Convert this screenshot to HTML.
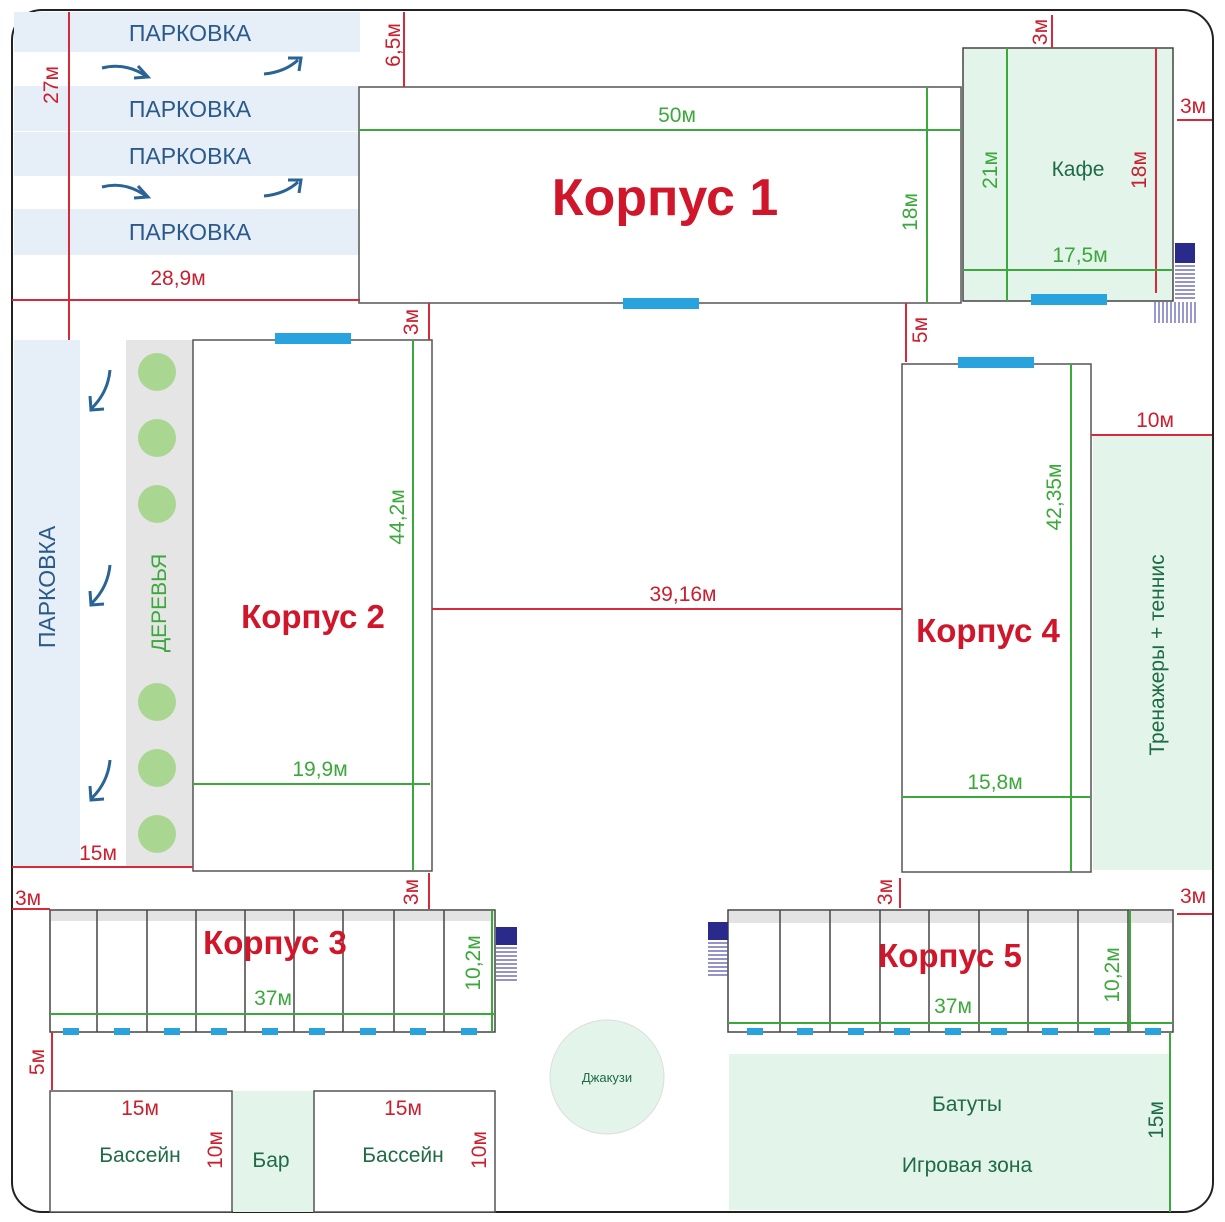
<!DOCTYPE html>
<html><head><meta charset="utf-8"><style>html,body{margin:0;padding:0;background:#fff}svg{display:block}text{font-family:"Liberation Sans",sans-serif}</style></head><body>
<svg width="1225" height="1222" viewBox="0 0 1225 1222" xmlns="http://www.w3.org/2000/svg">
<rect x="12" y="10" width="1201" height="1202" rx="30" fill="#fff" stroke="#222" stroke-width="2"/>
<g fill="#e6eef8">
<rect x="14" y="12" width="346" height="40"/><rect x="14" y="86" width="346" height="45"/><rect x="14" y="132" width="346" height="44"/><rect x="14" y="209" width="346" height="46"/>
</g>
<g font-size="23" fill="#2a5a8a" text-anchor="middle">
<text x="190" y="41">ПАРКОВКА</text><text x="190" y="117">ПАРКОВКА</text><text x="190" y="164">ПАРКОВКА</text><text x="190" y="240">ПАРКОВКА</text>
</g>
<g fill="none" stroke="#2a6496" stroke-width="3">
<path d="M102 68 Q125 62 146 76"/><path d="M138 66 L148 77 L134 78"/>
<path d="M264 74 Q285 72 298 60"/><path d="M288 58 L301 58 L299 71"/>
<path d="M102 187 Q125 181 146 196"/><path d="M138 186 L148 197 L134 198"/>
<path d="M264 196 Q285 194 298 182"/><path d="M288 180 L301 180 L299 193"/>
<path d="M110 370 Q108 392 92 408"/><path d="M90 396 L91 410 L104 409"/>
<path d="M110 565 Q108 587 92 603"/><path d="M90 591 L91 605 L104 604"/>
<path d="M110 760 Q108 782 92 798"/><path d="M90 786 L91 800 L104 799"/>
</g>
<rect x="359" y="87" width="602" height="216" fill="#fff" stroke="#555" stroke-width="1.5"/>
<rect x="963" y="48" width="210" height="253" fill="#e3f4ea" stroke="#444" stroke-width="1.5"/>
<rect x="14" y="340" width="66" height="527" fill="#e6eef8"/>
<rect x="126" y="340" width="67" height="527" fill="#e5e5e5"/>
<g fill="#a9d791"><circle cx="157" cy="372" r="19"/><circle cx="157" cy="438" r="19"/><circle cx="157" cy="504" r="19"/><circle cx="157" cy="702" r="19"/><circle cx="157" cy="768" r="19"/><circle cx="157" cy="834" r="19"/></g>
<rect x="193" y="340" width="239" height="531" fill="#fff" stroke="#555" stroke-width="1.5"/>
<rect x="902" y="364" width="189" height="508" fill="#fff" stroke="#555" stroke-width="1.5"/>
<rect x="1093" y="436" width="119" height="434" fill="#e3f4ea"/>
<rect x="50" y="910" width="445" height="122" fill="#fff" stroke="#444" stroke-width="1.5"/>
<rect x="51" y="911" width="443" height="10" fill="#e3e3e3"/>
<rect x="728" y="910" width="445" height="122" fill="#fff" stroke="#444" stroke-width="1.5"/>
<rect x="729" y="911" width="443" height="12" fill="#e3e3e3"/>
<g stroke="#444" stroke-width="1.5">
<line x1="97" y1="910" x2="97" y2="1032"/><line x1="147" y1="910" x2="147" y2="1032"/><line x1="196" y1="910" x2="196" y2="1032"/><line x1="245" y1="910" x2="245" y2="1032"/><line x1="294" y1="910" x2="294" y2="1032"/><line x1="343" y1="910" x2="343" y2="1032"/><line x1="394" y1="910" x2="394" y2="1032"/><line x1="444" y1="910" x2="444" y2="1032"/>
<line x1="780" y1="910" x2="780" y2="1032"/><line x1="830" y1="910" x2="830" y2="1032"/><line x1="880" y1="910" x2="880" y2="1032"/><line x1="929" y1="910" x2="929" y2="1032"/><line x1="979" y1="910" x2="979" y2="1032"/><line x1="1028" y1="910" x2="1028" y2="1032"/><line x1="1078" y1="910" x2="1078" y2="1032"/><line x1="1128" y1="910" x2="1128" y2="1032"/>
</g>
<rect x="50" y="1091" width="182" height="121" fill="#fff" stroke="#555" stroke-width="1.5"/>
<rect x="233" y="1091" width="81" height="121" fill="#e3f4ea"/>
<rect x="314" y="1091" width="181" height="121" fill="#fff" stroke="#555" stroke-width="1.5"/>
<circle cx="607" cy="1077" r="57" fill="#e3f4ea" stroke="#ddd"/>
<rect x="729" y="1054" width="441" height="156" fill="#e3f4ea"/>
<g stroke="#d62a3a" stroke-width="2" fill="none">
<line x1="69" y1="12" x2="69" y2="340"/><line x1="12" y1="300" x2="360" y2="300"/><line x1="404" y1="12" x2="404" y2="87"/>
<line x1="1052" y1="15" x2="1052" y2="48"/><line x1="1177" y1="120" x2="1212" y2="120"/>
<line x1="429" y1="303" x2="429" y2="340"/><line x1="906" y1="303" x2="906" y2="362"/>
<line x1="1091" y1="435" x2="1212" y2="435"/><line x1="12" y1="867" x2="193" y2="867"/>
<line x1="432" y1="609" x2="902" y2="609"/><line x1="429" y1="873" x2="429" y2="909"/>
<line x1="12" y1="909" x2="50" y2="909"/><line x1="52" y1="1032" x2="52" y2="1090"/>
<line x1="900" y1="878" x2="900" y2="908"/><line x1="1177" y1="914" x2="1212" y2="914"/>
<line x1="1156" y1="48" x2="1156" y2="293"/>
</g>
<g fill="#c8202e" font-size="21">
<text x="178" y="285" text-anchor="middle">28,9м</text>
<text transform="translate(58,85) rotate(-90)" text-anchor="middle">27м</text>
<text transform="translate(400,45) rotate(-90)" text-anchor="middle">6,5м</text>
<text transform="translate(1047,32) rotate(-90)" text-anchor="middle">3м</text>
<text x="1193" y="113" text-anchor="middle">3м</text>
<text transform="translate(1146,170) rotate(-90)" text-anchor="middle">18м</text>
<text transform="translate(418,322) rotate(-90)" text-anchor="middle">3м</text>
<text transform="translate(927,330) rotate(-90)" text-anchor="middle">5м</text>
<text x="1155" y="427" text-anchor="middle">10м</text>
<text x="98" y="860" text-anchor="middle">15м</text>
<text x="683" y="601" text-anchor="middle">39,16м</text>
<text transform="translate(418,892) rotate(-90)" text-anchor="middle">3м</text>
<text x="28" y="905" text-anchor="middle">3м</text>
<text transform="translate(892,892) rotate(-90)" text-anchor="middle">3м</text>
<text x="1193" y="903" text-anchor="middle">3м</text>
<text transform="translate(44,1062) rotate(-90)" text-anchor="middle">5м</text>
<text x="140" y="1115" text-anchor="middle">15м</text><text x="403" y="1115" text-anchor="middle">15м</text>
<text transform="translate(222,1150) rotate(-90)" text-anchor="middle">10м</text>
<text transform="translate(486,1150) rotate(-90)" text-anchor="middle">10м</text>
</g>
<g stroke="#3aa83a" stroke-width="2">
<line x1="359" y1="130" x2="961" y2="130"/><line x1="927" y1="87" x2="927" y2="303"/>
<line x1="1007" y1="48" x2="1007" y2="301"/><line x1="963" y1="270" x2="1173" y2="270"/>
<line x1="413" y1="340" x2="413" y2="871"/><line x1="193" y1="784" x2="430" y2="784"/>
<line x1="1071" y1="364" x2="1071" y2="872"/><line x1="902" y1="797" x2="1091" y2="797"/>
<line x1="50" y1="1014" x2="495" y2="1014"/><line x1="492" y1="910" x2="492" y2="1032"/>
<line x1="728" y1="1023" x2="1173" y2="1023"/><line x1="1130" y1="910" x2="1130" y2="1032"/>
<line x1="1170" y1="1032" x2="1170" y2="1212"/>
</g>
<g fill="#29a3dd">
<rect x="623" y="298" width="76" height="11"/><rect x="1031" y="294" width="76" height="11"/>
<rect x="275" y="333" width="76" height="11"/><rect x="958" y="357" width="76" height="11"/>
<rect x="63" y="1028" width="16" height="7"/><rect x="114" y="1028" width="16" height="7"/><rect x="164" y="1028" width="16" height="7"/><rect x="211" y="1028" width="16" height="7"/><rect x="262" y="1028" width="16" height="7"/><rect x="309" y="1028" width="16" height="7"/><rect x="360" y="1028" width="16" height="7"/><rect x="410" y="1028" width="16" height="7"/><rect x="461" y="1028" width="16" height="7"/>
<rect x="747" y="1028" width="16" height="7"/><rect x="797" y="1028" width="16" height="7"/><rect x="848" y="1028" width="16" height="7"/><rect x="894" y="1028" width="16" height="7"/><rect x="945" y="1028" width="16" height="7"/><rect x="991" y="1028" width="16" height="7"/><rect x="1042" y="1028" width="16" height="7"/><rect x="1094" y="1028" width="16" height="7"/><rect x="1145" y="1028" width="16" height="7"/>
</g>
<g fill="#2a2a8a">
<rect x="1175" y="243" width="20" height="20"/><rect x="496" y="927" width="21" height="18"/><rect x="708" y="922" width="20" height="18"/>
</g>
<g stroke="#5555aa" stroke-width="1.2">
<path d="M1175 266h20M1175 270h20M1175 274h20M1175 278h20M1175 282h20M1175 286h20M1175 290h20M1175 294h20M1175 298h20"/>
<path d="M1155 302v21M1159 302v21M1163 302v21M1167 302v21M1171 302v21M1175 302v21M1179 302v21M1183 302v21M1187 302v21M1191 302v21M1195 302v21"/>
<path d="M496 948h21M496 952h21M496 956h21M496 960h21M496 964h21M496 968h21M496 972h21M496 976h21M496 980h21"/>
<path d="M708 943h20M708 947h20M708 951h20M708 955h20M708 959h20M708 963h20M708 967h20M708 971h20M708 975h20"/>
</g>
<g fill="#3aa83a" font-size="21" text-anchor="middle">
<text x="677" y="122">50м</text>
<text transform="translate(917,212) rotate(-90)">18м</text>
<text transform="translate(997,170) rotate(-90)">21м</text>
<text x="1080" y="262">17,5м</text>
<text transform="translate(404,517) rotate(-90)">44,2м</text>
<text x="320" y="776">19,9м</text>
<text transform="translate(1061,497) rotate(-90)">42,35м</text>
<text x="995" y="789">15,8м</text>
<text x="273" y="1005">37м</text>
<text transform="translate(480,963) rotate(-90)">10,2м</text>
<text x="953" y="1013">37м</text>
<text transform="translate(1119,975) rotate(-90)">10,2м</text>
<text transform="translate(166,603) rotate(-90)">ДЕРЕВЬЯ</text>
</g>
<g fill="#1e6b45" text-anchor="middle" font-size="21">
<text x="1078" y="176">Кафе</text>
<text x="140" y="1162">Бассейн</text><text x="271" y="1167">Бар</text><text x="403" y="1162">Бассейн</text>
<text x="967" y="1111">Батуты</text><text x="967" y="1172">Игровая зона</text>
<text transform="translate(1163,1120) rotate(-90)">15м</text>
<text transform="translate(1164,655) rotate(-90)">Тренажеры + теннис</text>
<text x="607" y="1082" font-size="13">Джакузи</text>
</g>
<text transform="translate(55,587) rotate(-90)" fill="#2a5a8a" font-size="23" text-anchor="middle">ПАРКОВКА</text>
<g fill="#d0162a" font-weight="bold" text-anchor="middle">
<text x="665" y="215" font-size="52">Корпус 1</text>
<text x="313" y="628" font-size="33">Корпус 2</text>
<text x="988" y="642" font-size="33">Корпус 4</text>
<text x="275" y="954" font-size="33">Корпус 3</text>
<text x="950" y="967" font-size="33">Корпус 5</text>
</g>
</svg>
</body></html>
